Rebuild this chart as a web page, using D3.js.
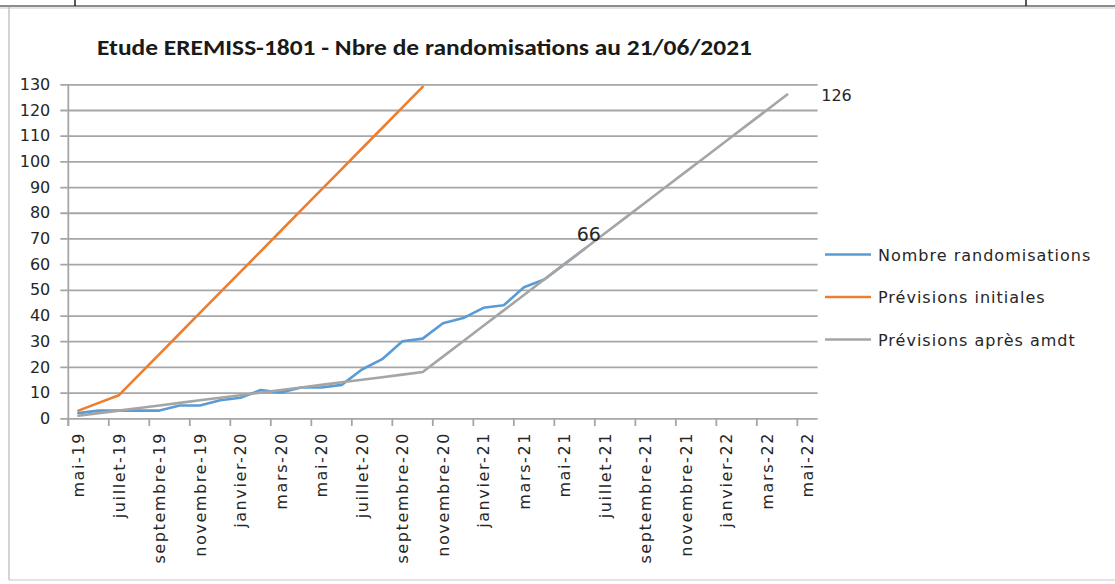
<html>
<head>
<meta charset="utf-8">
<script src="https://cdnjs.cloudflare.com/ajax/libs/d3/7.8.5/d3.min.js"></script>
<style>
body { margin:0; background:#fff; }
text { font-family: "DejaVu Sans", Verdana, sans-serif; fill:#262626; }
</style>
</head>
<body>
<div id="chart"></div>
<script>

// categories, one per month
months = ["mai-19","juin-19","juillet-19","août-19","septembre-19","octobre-19","novembre-19","décembre-19",
"janvier-20","février-20","mars-20","avril-20","mai-20","juin-20","juillet-20","août-20","septembre-20","octobre-20",
"novembre-20","décembre-20","janvier-21","février-21","mars-21","avril-21","mai-21","juin-21","juillet-21","août-21",
"septembre-21","octobre-21","novembre-21","décembre-21","janvier-22","février-22","mars-22","avril-22","mai-22"]

nbreRando = [2,3,3,3,3,5,5,7,8,11,10,12,12,13,19,23,30,31,37,39,43,44,51,54,60,66]
previsionsInit = [3,6,9,17,25,33,41,49,57,65,73,81,89,97,105,113,121,129]
previsionsAmdt = [1,2,3,4,5,6,7,8,9,10,11,12,13,14,15,16,17,18,24,30,36,42,48,54,60,66,72,78,84,90,96,102,108,114,120,126]

yTicks = [0,10,20,30,40,50,60,70,80,90,100,110,120,130]

series = [
	{name:"Nombre randomisations", values:nbreRando, color:"#5b9bd5"},
	{name:"Prévisions initiales", values:previsionsInit, color:"#ed7d31"},
	{name:"Prévisions après amdt", values:previsionsAmdt, color:"#a5a5a5"}
]

svg = d3.select("#chart").append("svg").attr("width",1115).attr("height",584)

// page frame
svg.append("line").attr("x1",0).attr("x2",1115).attr("y1",6).attr("y2",6).attr("stroke","#8c8c8c").attr("stroke-width",2)
svg.append("line").attr("x1",0).attr("x2",1115).attr("y1",8).attr("y2",8).attr("stroke","#e4e4e4").attr("stroke-width",2)
svg.append("line").attr("x1",75).attr("x2",75).attr("y1",0).attr("y2",6).attr("stroke","#222").attr("stroke-width",1.5)
svg.append("line").attr("x1",1026).attr("x2",1026).attr("y1",0).attr("y2",6).attr("stroke","#222").attr("stroke-width",1.5)
svg.append("line").attr("x1",9).attr("x2",9).attr("y1",7).attr("y2",580).attr("stroke","#b8b8b8").attr("stroke-width",1.2)
svg.append("line").attr("x1",9).attr("x2",1115).attr("y1",580).attr("y2",580).attr("stroke","#c8c8c8").attr("stroke-width",1.2)

svg.append("text").attr("x",97).attr("y",55)
	.attr("textLength",655).attr("lengthAdjust","spacingAndGlyphs")
	.style("font-family","Carlito, 'Liberation Sans Narrow', 'Liberation Sans', sans-serif")
	.style("font-weight","bold").style("font-size","23px").style("fill","#1a1a1a")
	.text("Etude EREMISS-1801 - Nbre de randomisations au 21/06/2021")

x = d3.scaleBand().domain(months).range([68.3,817.6]).padding(0)
y = d3.scaleLinear().domain([0,130]).range([418.3,84.3])
cx = function(i){ return x(months[i]) + x.bandwidth()/2 }

// horizontal gridlines + y labels
yAxis = svg.append("g").attr("transform","translate(68.3,0)")
	.call(d3.axisLeft(y).tickValues(yTicks).tickSize(8).tickPadding(10))
yAxis.select(".domain").remove()
yAxis.selectAll(".tick line").attr("x1",-8).attr("x2",817.6-68.3).attr("stroke","#a6a6a6").attr("stroke-width",1.8)
yAxis.selectAll(".tick text").style("font-size","16px").attr("x",-18).attr("fill","#262626")

svg.append("line").attr("x1",68.3).attr("x2",68.3).attr("y1",84.3).attr("y2",426)
	.attr("stroke","#a6a6a6").attr("stroke-width",1.8)

// x ticks every 2 months, between categories
evenIdx = d3.range(0,months.length,2)
svg.append("g").selectAll("line").data(evenIdx).enter().append("line")
	.attr("x1",function(d){ return x(months[d]) }).attr("x2",function(d){ return x(months[d]) })
	.attr("y1",418.3).attr("y2",426).attr("stroke","#a6a6a6").attr("stroke-width",1.8)

svg.append("g").selectAll("text").data(evenIdx).enter().append("text")
	.attr("transform",function(d){ return "translate(" + (cx(d)+6) + ",432) rotate(-90)" })
	.attr("text-anchor","end").style("font-size","16px").style("letter-spacing","1.6px")
	.text(function(d){ return months[d] })

line = d3.line().x(function(d,i){ return cx(i) }).y(function(d){ return y(d) })

svg.append("g").selectAll("path").data(series).enter().append("path")
	.attr("d",function(s){ return line(s.values) })
	.attr("fill","none").attr("stroke",function(s){ return s.color })
	.attr("stroke-width",2.6).attr("stroke-linejoin","round").attr("stroke-linecap","round")

// data labels
svg.append("text").attr("x",cx(25)-8).attr("y",y(66)-8).style("font-size","19px").text(nbreRando[25])
svg.append("text").attr("x",cx(35)+34).attr("y",y(126)+6).style("font-size","16px").text(previsionsAmdt[35])

// legend
legend = svg.append("g").selectAll("g").data(series).enter().append("g")
	.attr("transform",function(d,i){ return "translate(825," + [254.5,297,339.5][i] + ")" })
legend.append("line").attr("x1",0).attr("x2",46).attr("stroke",function(d){ return d.color }).attr("stroke-width",2.6)
legend.append("text").attr("x",53).attr("y",6).style("font-size","16px").style("letter-spacing","1px")
	.text(function(d){ return d.name })

</script>
</body>
</html>
